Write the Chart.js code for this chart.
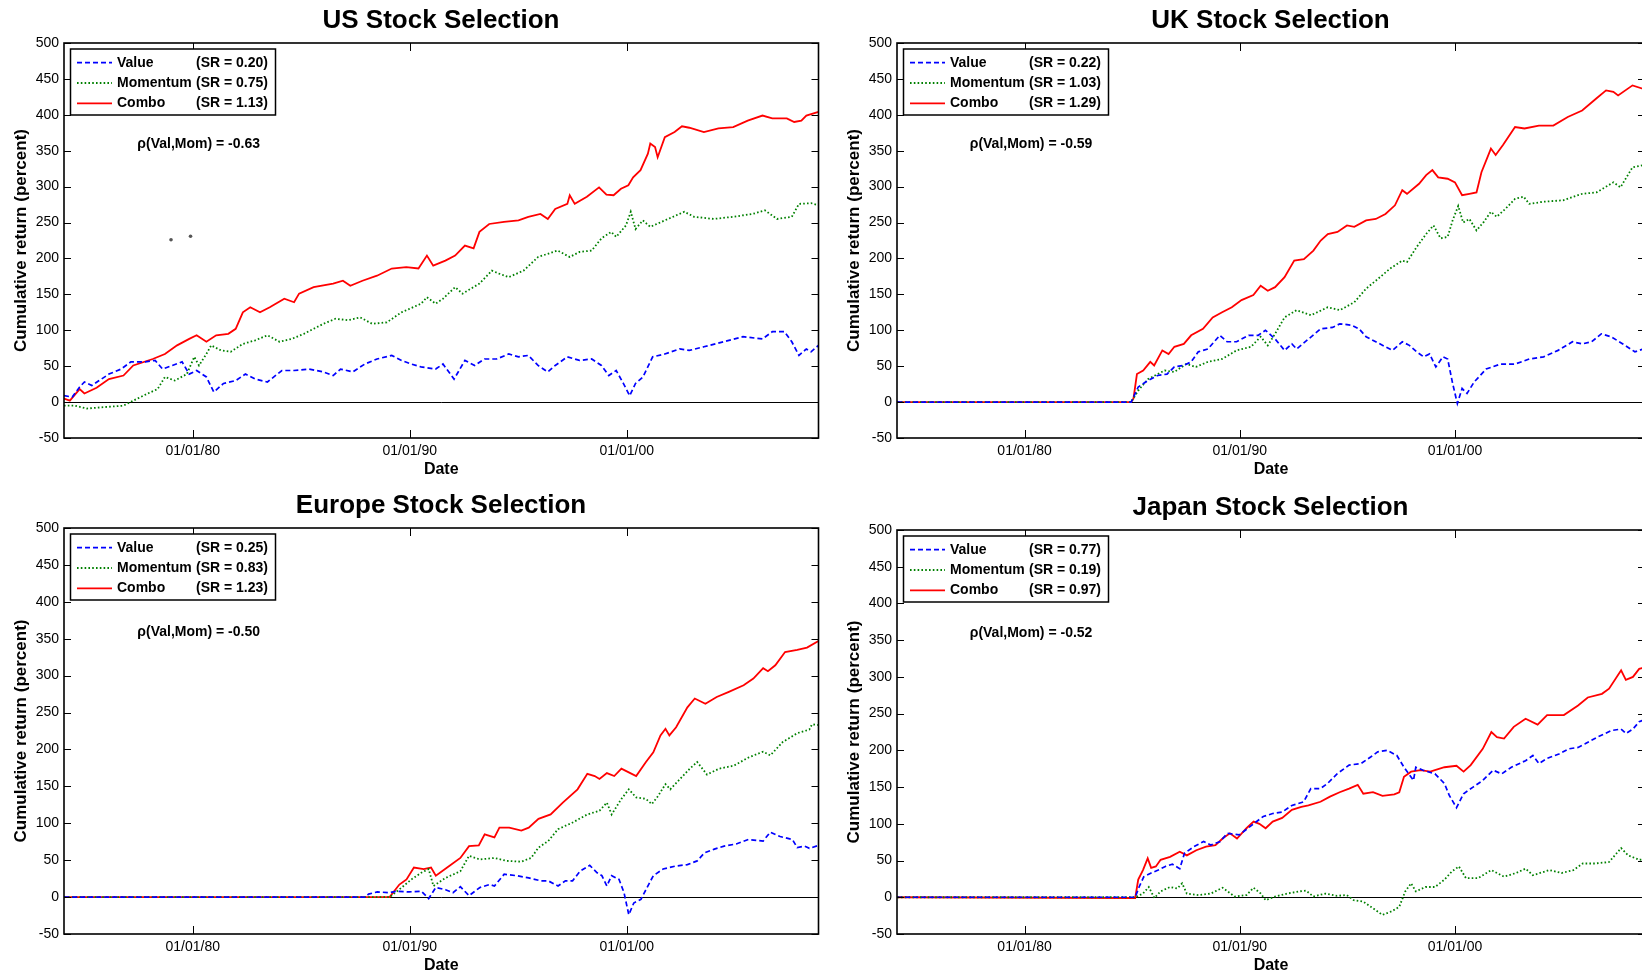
<!DOCTYPE html>
<html>
<head>
<meta charset="utf-8">
<script src="https://cdn.jsdelivr.net/npm/chart.js@4.4.1/dist/chart.umd.min.js"></script>
<style>
  html, body { margin: 0; padding: 0; background: #fff; overflow: hidden; width: 1642px; height: 975px; }
  canvas { position: absolute; }
</style>
</head>
<body>
<canvas id="us" width="882" height="480" style="left:0;top:0;width:882px;height:480px"></canvas>
<canvas id="uk" width="875" height="480" style="left:833px;top:0;width:875px;height:480px"></canvas>
<canvas id="eu" width="882" height="491" style="left:0;top:485px;width:882px;height:491px"></canvas>
<canvas id="jp" width="875" height="489" style="left:833px;top:487px;width:875px;height:489px"></canvas>
<script>
// ---- data: [year, cumulative return %] ----
const seriesNames = ['Value', 'Momentum', 'Combo'];
const xTickYears = [1980, 1990, 2000];
const xTickLabels = ['01/01/80', '01/01/90', '01/01/00'];
const yTicks = [-50, 0, 50, 100, 150, 200, 250, 300, 350, 400, 450, 500];

const usValue = [[1974.07, 9], [1974.45, 7], [1974.79, 21], [1975.01, 28], [1975.35, 23], [1975.69, 30], [1976.14, 39], [1976.70, 46], [1977.15, 56], [1977.82, 56], [1978.27, 58], [1978.61, 46], [1979.06, 51], [1979.51, 56], [1979.84, 39], [1980.18, 44], [1980.63, 35], [1980.97, 14], [1981.42, 26], [1981.98, 30], [1982.43, 39], [1982.88, 32], [1983.44, 28], [1984.11, 44], [1984.67, 44], [1985.35, 46], [1986.02, 42], [1986.47, 37], [1986.81, 46], [1987.37, 42], [1987.93, 53], [1988.49, 60], [1989.17, 65], [1989.62, 58], [1990.07, 53], [1990.52, 49], [1991.19, 46], [1991.53, 53], [1992.04, 32], [1992.54, 58], [1992.99, 51], [1993.44, 60], [1994.00, 60], [1994.56, 67], [1995.01, 63], [1995.46, 65], [1995.91, 51], [1996.36, 42], [1996.70, 51], [1997.26, 63], [1997.82, 58], [1998.38, 60], [1998.83, 51], [1999.17, 37], [1999.51, 44], [1999.84, 26], [2000.13, 9], [2000.40, 26], [2000.74, 35], [2001.19, 63], [2001.75, 67], [2002.43, 74], [2002.88, 72], [2003.55, 77], [2004.45, 84], [2005.35, 91], [2006.25, 88], [2006.70, 98], [2007.26, 98], [2007.60, 84], [2007.93, 65], [2008.27, 74], [2008.49, 70], [2008.83, 79]];
const usMomentum = [[1974.07, -5], [1974.56, -5], [1975.12, -9], [1975.91, -7], [1976.81, -5], [1977.26, 2], [1977.93, 12], [1978.38, 18], [1978.72, 35], [1979.17, 30], [1979.73, 39], [1980.07, 63], [1980.29, 51], [1980.63, 67], [1980.85, 79], [1981.30, 72], [1981.75, 70], [1982.31, 81], [1982.88, 86], [1983.44, 93], [1984.00, 84], [1984.56, 88], [1985.12, 95], [1985.57, 102], [1986.02, 109], [1986.58, 116], [1987.15, 114], [1987.71, 118], [1988.27, 109], [1988.94, 111], [1989.62, 125], [1990.52, 137], [1990.79, 146], [1991.19, 137], [1991.53, 144], [1992.09, 160], [1992.43, 151], [1993.21, 165], [1993.78, 183], [1994.11, 179], [1994.56, 174], [1995.24, 183], [1995.91, 202], [1996.81, 211], [1997.37, 202], [1997.82, 209], [1998.38, 211], [1998.83, 228], [1999.28, 237], [1999.51, 230], [1999.96, 246], [2000.18, 265], [2000.40, 241], [2000.74, 253], [2001.08, 244], [2001.75, 253], [2002.65, 265], [2003.10, 258], [2004.00, 255], [2004.90, 258], [2005.80, 262], [2006.36, 267], [2006.92, 255], [2007.60, 258], [2007.93, 276], [2008.49, 277], [2008.83, 274]];
const usCombo = [[1974.07, 5], [1974.34, 2], [1974.79, 18], [1975.01, 12], [1975.57, 20], [1976.14, 32], [1976.81, 37], [1977.26, 51], [1978.16, 60], [1978.72, 67], [1979.28, 79], [1979.84, 88], [1980.18, 93], [1980.63, 84], [1981.08, 93], [1981.64, 95], [1981.98, 102], [1982.31, 125], [1982.65, 132], [1983.10, 125], [1983.55, 132], [1984.22, 144], [1984.67, 139], [1984.90, 151], [1985.57, 160], [1986.47, 165], [1986.92, 169], [1987.26, 162], [1987.82, 169], [1988.49, 176], [1989.17, 186], [1989.84, 188], [1990.40, 186], [1990.79, 204], [1991.08, 190], [1991.64, 197], [1992.09, 204], [1992.54, 218], [1992.94, 214], [1993.21, 237], [1993.66, 248], [1994.34, 251], [1995.01, 253], [1995.46, 258], [1996.02, 262], [1996.36, 255], [1996.70, 269], [1997.26, 276], [1997.37, 288], [1997.60, 276], [1998.16, 286], [1998.72, 299], [1999.06, 289], [1999.39, 288], [1999.73, 297], [2000.07, 302], [2000.29, 313], [2000.63, 323], [2000.97, 346], [2001.08, 360], [2001.30, 355], [2001.42, 341], [2001.75, 369], [2002.20, 376], [2002.54, 384], [2002.88, 382], [2003.55, 376], [2004.22, 381], [2004.90, 383], [2005.57, 392], [2006.25, 399], [2006.70, 395], [2007.37, 395], [2007.71, 390], [2008.04, 392], [2008.27, 399], [2008.83, 404]];
const usStray = [[1979.0, 226], [1979.9, 231]];
const usSharpe = ['0.20', '0.75', '1.13'];
const usRho = '-0.63';

const ukValue = [[1974.08, 0], [1984.95, 0], [1985.28, 21], [1985.73, 30], [1986.18, 37], [1986.62, 39], [1986.96, 49], [1987.40, 51], [1987.74, 56], [1988.07, 70], [1988.52, 74], [1989.07, 93], [1989.41, 84], [1989.85, 84], [1990.41, 93], [1990.86, 93], [1991.19, 100], [1991.64, 88], [1992.08, 72], [1992.42, 81], [1992.64, 74], [1993.20, 88], [1993.76, 102], [1994.31, 104], [1994.65, 109], [1995.21, 107], [1995.54, 102], [1995.87, 91], [1996.32, 84], [1996.77, 77], [1997.10, 72], [1997.55, 84], [1997.88, 79], [1998.22, 70], [1998.55, 63], [1998.82, 67], [1999.11, 49], [1999.44, 63], [1999.66, 60], [1999.89, 26], [2000.11, -2], [2000.33, 19], [2000.56, 12], [2000.89, 28], [2001.45, 46], [2002.12, 53], [2002.79, 53], [2003.45, 60], [2004.12, 63], [2004.79, 72], [2005.46, 84], [2005.91, 81], [2006.35, 84], [2006.80, 95], [2007.25, 91], [2007.80, 81], [2008.36, 70], [2008.76, 74], [2008.83, 73]];
const ukMomentum = [[1974.08, 0], [1984.95, 0], [1985.28, 16], [1985.73, 32], [1986.18, 39], [1986.51, 44], [1986.96, 42], [1987.51, 53], [1987.96, 49], [1988.52, 56], [1989.18, 60], [1989.85, 72], [1990.52, 77], [1990.97, 91], [1991.30, 79], [1991.64, 95], [1992.08, 118], [1992.64, 128], [1993.31, 121], [1994.09, 132], [1994.65, 128], [1995.32, 139], [1995.87, 158], [1996.32, 169], [1996.99, 186], [1997.55, 197], [1997.77, 195], [1998.22, 216], [1998.66, 234], [1999.00, 246], [1999.33, 228], [1999.66, 230], [1999.89, 253], [2000.15, 273], [2000.38, 250], [2000.67, 255], [2001.00, 239], [2001.34, 251], [2001.67, 265], [2001.94, 258], [2002.34, 269], [2002.79, 283], [2003.19, 286], [2003.45, 276], [2004.12, 279], [2005.02, 281], [2005.91, 290], [2006.58, 292], [2007.36, 306], [2007.69, 299], [2008.25, 327], [2008.76, 330], [2008.83, 329]];
const ukCombo = [[1974.08, 0], [1984.95, 0], [1985.06, 5], [1985.22, 39], [1985.51, 44], [1985.84, 56], [1986.02, 51], [1986.40, 72], [1986.69, 67], [1986.96, 77], [1987.40, 81], [1987.74, 93], [1988.29, 102], [1988.74, 118], [1989.18, 125], [1989.63, 132], [1990.08, 142], [1990.63, 149], [1990.97, 162], [1991.30, 155], [1991.64, 160], [1992.08, 174], [1992.53, 197], [1992.98, 199], [1993.42, 211], [1993.76, 225], [1994.09, 234], [1994.54, 237], [1994.98, 246], [1995.32, 244], [1995.87, 253], [1996.32, 255], [1996.77, 262], [1997.21, 274], [1997.55, 295], [1997.77, 290], [1998.33, 304], [1998.66, 316], [1998.95, 323], [1999.22, 313], [1999.66, 311], [2000.00, 306], [2000.33, 288], [2000.67, 290], [2001.00, 292], [2001.23, 320], [2001.67, 353], [2001.89, 344], [2002.23, 358], [2002.79, 383], [2003.23, 381], [2003.90, 385], [2004.57, 385], [2005.24, 397], [2005.91, 406], [2006.58, 423], [2007.02, 434], [2007.36, 432], [2007.58, 427], [2008.25, 441], [2008.76, 436], [2008.83, 434]];
const ukSharpe = ['0.22', '1.03', '1.29'];
const ukRho = '-0.59';

const euValue = [[1974.08, 0], [1987.94, 0], [1988.10, 4], [1988.50, 7], [1989.07, 6], [1989.40, 8], [1989.97, 7], [1990.53, 8], [1990.87, -2], [1991.20, 13], [1991.65, 10], [1991.99, 6], [1992.33, 14], [1992.73, 2], [1993.23, 13], [1993.68, 17], [1993.90, 15], [1994.35, 31], [1994.92, 29], [1995.48, 26], [1996.04, 22], [1996.38, 22], [1996.83, 15], [1997.17, 22], [1997.50, 22], [1997.84, 35], [1998.29, 43], [1998.63, 33], [1998.85, 29], [1999.08, 15], [1999.30, 29], [1999.64, 24], [1999.87, 6], [2000.09, -24], [2000.32, -8], [2000.65, -3], [2000.88, 10], [2001.22, 29], [2001.67, 38], [2002.23, 42], [2002.79, 44], [2003.24, 49], [2003.58, 60], [2004.03, 65], [2004.48, 69], [2005.04, 72], [2005.60, 78], [2006.28, 76], [2006.61, 88], [2007.06, 82], [2007.63, 78], [2007.85, 67], [2008.19, 69], [2008.41, 66], [2008.83, 70]];
const euMomentum = [[1974.08, 0], [1989.07, 0], [1989.63, 13], [1990.08, 24], [1990.53, 33], [1990.87, 38], [1991.09, 15], [1991.65, 26], [1992.33, 35], [1992.73, 56], [1993.23, 51], [1993.90, 53], [1994.47, 49], [1995.14, 48], [1995.59, 53], [1995.93, 67], [1996.38, 76], [1996.83, 92], [1997.50, 101], [1998.18, 112], [1998.52, 115], [1998.74, 117], [1999.08, 128], [1999.30, 112], [1999.75, 133], [2000.09, 146], [2000.43, 135], [2000.88, 133], [2001.15, 126], [2001.44, 137], [2001.78, 153], [2002.00, 146], [2002.45, 160], [2002.90, 174], [2003.24, 183], [2003.69, 166], [2004.25, 174], [2004.93, 178], [2005.60, 189], [2006.28, 197], [2006.61, 192], [2007.18, 210], [2007.85, 222], [2008.41, 227], [2008.53, 234], [2008.83, 233]];
const euCombo = [[1974.08, 0], [1989.07, 0], [1989.52, 17], [1989.85, 24], [1990.19, 40], [1990.64, 38], [1990.98, 40], [1991.20, 29], [1991.77, 41], [1992.33, 53], [1992.73, 69], [1993.18, 70], [1993.45, 85], [1993.90, 81], [1994.13, 94], [1994.58, 94], [1995.14, 90], [1995.48, 94], [1995.93, 106], [1996.49, 112], [1997.05, 128], [1997.73, 146], [1998.18, 167], [1998.52, 164], [1998.74, 160], [1999.08, 168], [1999.42, 164], [1999.75, 174], [2000.09, 169], [2000.43, 164], [2000.88, 183], [2001.22, 196], [2001.55, 219], [2001.78, 228], [2001.96, 219], [2002.27, 230], [2002.79, 257], [2003.13, 269], [2003.62, 262], [2004.14, 271], [2004.70, 278], [2005.38, 287], [2005.83, 296], [2006.28, 310], [2006.50, 306], [2006.84, 314], [2007.29, 332], [2007.85, 335], [2008.30, 338], [2008.83, 347]];
const euSharpe = ['0.25', '0.83', '1.23'];
const euRho = '-0.50';

const jpValue = [[1974.08, 0], [1985.14, 0], [1985.32, 14], [1985.54, 28], [1985.88, 33], [1986.21, 37], [1986.54, 42], [1986.87, 45], [1987.21, 39], [1987.43, 60], [1987.87, 69], [1988.32, 76], [1988.65, 71], [1989.09, 76], [1989.42, 87], [1989.98, 85], [1990.64, 100], [1991.09, 110], [1991.53, 114], [1991.97, 116], [1992.42, 125], [1992.97, 130], [1993.30, 148], [1993.75, 148], [1994.08, 155], [1994.52, 168], [1995.08, 180], [1995.63, 182], [1996.08, 191], [1996.41, 198], [1996.85, 200], [1997.30, 193], [1997.63, 177], [1997.85, 168], [1998.07, 159], [1998.18, 177], [1998.52, 173], [1999.07, 168], [1999.51, 155], [1999.73, 139], [2000.07, 122], [2000.40, 141], [2000.84, 150], [2001.29, 159], [2001.77, 173], [2002.17, 168], [2002.62, 177], [2003.28, 186], [2003.62, 193], [2003.90, 182], [2004.28, 189], [2004.83, 195], [2005.28, 202], [2005.72, 204], [2006.05, 209], [2006.61, 218], [2007.27, 227], [2007.72, 229], [2007.94, 223], [2008.27, 229], [2008.56, 239], [2008.83, 242]];
const jpMomentum = [[1974.08, 0], [1985.14, 0], [1985.50, 5], [1985.77, 14], [1986.03, -1], [1986.32, 8], [1986.76, 14], [1987.10, 12], [1987.32, 19], [1987.54, 5], [1988.09, 3], [1988.65, 5], [1989.20, 13], [1989.76, 1], [1990.31, 3], [1990.64, 13], [1990.98, 5], [1991.20, -4], [1991.64, 1], [1992.20, 5], [1992.75, 8], [1993.08, 9], [1993.42, 1], [1993.97, 5], [1994.52, 2], [1994.97, 3], [1995.30, -4], [1995.74, -6], [1996.19, -15], [1996.63, -24], [1997.07, -19], [1997.41, -13], [1997.69, 8], [1997.96, 19], [1998.18, 8], [1998.63, 14], [1999.07, 14], [1999.51, 24], [1999.85, 35], [2000.18, 42], [2000.51, 26], [2001.07, 26], [2001.69, 37], [2002.28, 28], [2002.84, 33], [2003.28, 39], [2003.62, 30], [2004.39, 37], [2004.95, 33], [2005.50, 37], [2005.94, 46], [2006.50, 46], [2007.16, 48], [2007.72, 67], [2008.05, 57], [2008.56, 51], [2008.83, 52]];
const jpCombo = [[1974.08, 0], [1985.14, -1], [1985.28, 24], [1985.50, 37], [1985.72, 53], [1985.88, 40], [1986.10, 42], [1986.32, 51], [1986.76, 55], [1987.21, 62], [1987.54, 57], [1987.98, 64], [1988.43, 69], [1988.87, 71], [1989.20, 80], [1989.54, 87], [1989.87, 80], [1990.31, 94], [1990.64, 103], [1990.91, 100], [1991.20, 94], [1991.53, 103], [1991.97, 108], [1992.42, 119], [1992.86, 123], [1993.19, 125], [1993.75, 130], [1994.19, 137], [1994.64, 143], [1995.08, 148], [1995.48, 153], [1995.74, 141], [1996.19, 143], [1996.63, 138], [1997.18, 140], [1997.41, 143], [1997.63, 164], [1997.96, 171], [1998.40, 173], [1998.85, 171], [1999.51, 177], [2000.07, 179], [2000.40, 171], [2000.73, 180], [2001.29, 202], [2001.69, 225], [2001.95, 218], [2002.28, 216], [2002.73, 232], [2003.28, 243], [2003.84, 235], [2004.28, 248], [2005.06, 248], [2005.72, 261], [2006.17, 272], [2006.83, 277], [2007.16, 284], [2007.72, 309], [2007.94, 296], [2008.27, 300], [2008.56, 311], [2008.83, 313]];
const jpSharpe = ['0.77', '0.19', '0.97'];
const jpRho = '-0.52';

// ---- layout / style ----
const X_MIN = 1974.07;
const X_MAX = 2008.83;
const RHO_AT = [1977.45, 359];   // where the correlation note sits, in data units
const FONT = '"Liberation Sans", Arial, Helvetica, sans-serif';

// lower order draws on top: the dashed/dotted lines sit over the red one, like the flat stretch at 0 shows
const STYLES = [
  { color: '#0000FF', width: 1.7, dash: [5, 3], order: 1 },
  { color: '#008000', width: 1.8, dash: [1.6, 2.2], order: 2 },
  { color: '#FF0000', width: 1.8, dash: [], order: 3 }
];

// rightGap = empty room right of the axes box, mirrored against the 64px y-axis strip so the
// title (centred on the whole canvas) lands over the middle of the axes, as MATLAB does it.
const panels = [
  { id: 'us', title: 'US Stock Selection', series: [usValue, usMomentum, usCombo], sharpe: usSharpe, rho: usRho, stray: usStray, rightGap: 63.5 },
  { id: 'uk', title: 'UK Stock Selection', series: [ukValue, ukMomentum, ukCombo], sharpe: ukSharpe, rho: ukRho, stray: [], rightGap: 63 },
  { id: 'eu', title: 'Europe Stock Selection', series: [euValue, euMomentum, euCombo], sharpe: euSharpe, rho: euRho, stray: [], rightGap: 63.5 },
  { id: 'jp', title: 'Japan Stock Selection', series: [jpValue, jpMomentum, jpCombo], sharpe: jpSharpe, rho: jpRho, stray: [], rightGap: 63 }
];

Chart.defaults.font.family = FONT;
Chart.defaults.color = '#000';

// MATLAB-ish axes box: inward ticks on all four sides, the rho note, and a boxed legend inside the axes.
const matlabAxes = {
  id: 'matlabAxes',
  afterDatasetsDraw(chart, args, opts) {
    const { ctx, chartArea: a, scales: { x, y } } = chart;
    ctx.save();
    ctx.strokeStyle = '#000';
    ctx.lineWidth = 1;
    ctx.beginPath();
    xTickYears.forEach((v) => {
      const px = Math.round(x.getPixelForValue(v)) + 0.5;
      ctx.moveTo(px, a.bottom); ctx.lineTo(px, a.bottom - 8);
      ctx.moveTo(px, a.top); ctx.lineTo(px, a.top + 8);
    });
    yTicks.forEach((v) => {
      const py = Math.round(y.getPixelForValue(v)) + 0.5;
      ctx.moveTo(a.left, py); ctx.lineTo(a.left + 7, py);
      ctx.moveTo(a.right, py); ctx.lineTo(a.right - 7, py);
    });
    ctx.stroke();
    ctx.lineWidth = 1.6;
    ctx.strokeRect(a.left, a.top, a.right - a.left, a.bottom - a.top);

    // correlation note
    ctx.font = 'bold 14px ' + FONT;
    ctx.fillStyle = '#000';
    ctx.textAlign = 'left';
    ctx.textBaseline = 'middle';
    ctx.fillText('\u03C1(Val,Mom) = ' + opts.rho, x.getPixelForValue(RHO_AT[0]), y.getPixelForValue(RHO_AT[1]));

    // legend
    const bx = a.left + 6.5, by = a.top + 6;
    ctx.fillStyle = '#fff';
    ctx.fillRect(bx, by, 205, 66);
    ctx.lineWidth = 1.5;
    ctx.strokeStyle = '#000';
    ctx.strokeRect(bx, by, 205, 66);
    seriesNames.forEach((name, i) => {
      const ry = a.top + 19.7 + i * 20.3;
      const st = STYLES[i];
      ctx.save();
      ctx.strokeStyle = st.color;
      ctx.lineWidth = st.width;
      ctx.setLineDash(st.dash);
      ctx.beginPath();
      ctx.moveTo(a.left + 13, ry);
      ctx.lineTo(a.left + 48, ry);
      ctx.stroke();
      ctx.restore();
      ctx.fillStyle = '#000';
      ctx.fillText(name, a.left + 53, ry);
      ctx.fillText('(SR = ' + opts.sharpe[i] + ')', a.left + 132, ry);
    });
    ctx.restore();
  }
};

function toXY(pairs) {
  return pairs.map(([x, y]) => ({ x, y }));
}

function renderPanel(p) {
  const ctx = document.getElementById(p.id).getContext('2d');
  const datasets = p.series.map((s, i) => ({
    label: seriesNames[i],
    data: toXY(s),
    borderColor: STYLES[i].color,
    borderWidth: STYLES[i].width,
    borderDash: STYLES[i].dash,
    order: STYLES[i].order,
    pointRadius: 0,
    tension: 0,
    fill: false
  }));
  if (p.stray.length) {
    datasets.push({ label: '', data: toXY(p.stray), showLine: false, pointRadius: 1.8, pointBorderWidth: 0, pointBackgroundColor: '#555', order: 0 });
  }
  return new Chart(ctx, {
    type: 'line',
    data: { datasets },
    plugins: [matlabAxes],
    options: {
      responsive: false,
      animation: false,
      events: [],
      layout: { padding: 0 },
      plugins: {
        legend: { display: false },
        tooltip: { enabled: false },
        title: { display: true, text: p.title, color: '#000', font: { size: 26, weight: 'bold' }, padding: { top: 5.5, bottom: 6.3 } },
        matlabAxes: { rho: p.rho, sharpe: p.sharpe }
      },
      scales: {
        x: {
          type: 'linear',
          min: X_MIN,
          max: X_MAX,
          afterBuildTicks: (s) => { s.ticks = xTickYears.map((v) => ({ value: v })); },
          afterFit: (s) => { s.height = 42; },
          ticks: { callback: (v) => xTickLabels[xTickYears.indexOf(v)], padding: 5, maxRotation: 0, autoSkip: false, font: { size: 14 }, color: '#000' },
          grid: { display: false, drawTicks: false },
          border: { display: false },
          title: { display: true, text: 'Date', color: '#000', font: { size: 16, weight: 'bold' }, padding: { top: 0, bottom: 1 } }
        },
        y: {
          min: -50,
          max: 500,
          afterBuildTicks: (s) => { s.ticks = yTicks.map((v) => ({ value: v })); },
          afterFit: (s) => { s.width = 64; },
          ticks: { padding: 5, font: { size: 14 }, color: '#000' },
          grid: { drawTicks: false, color: (c) => (c.tick && c.tick.value === 0 ? '#000' : 'rgba(0,0,0,0)'), lineWidth: 1 },
          border: { display: false },
          title: { display: true, text: 'Cumulative return (percent)', color: '#000', font: { size: 17, weight: 'bold' }, padding: { top: 11, bottom: 0 } }
        },
        // empty strip on the right, only there to balance the y-axis strip
        gap: {
          type: 'linear',
          position: 'right',
          afterFit: (s) => { s.width = p.rightGap; },
          ticks: { display: false },
          grid: { display: false, drawTicks: false },
          border: { display: false }
        }
      }
    }
  });
}

panels.forEach(renderPanel);
</script>
</body>
</html>
